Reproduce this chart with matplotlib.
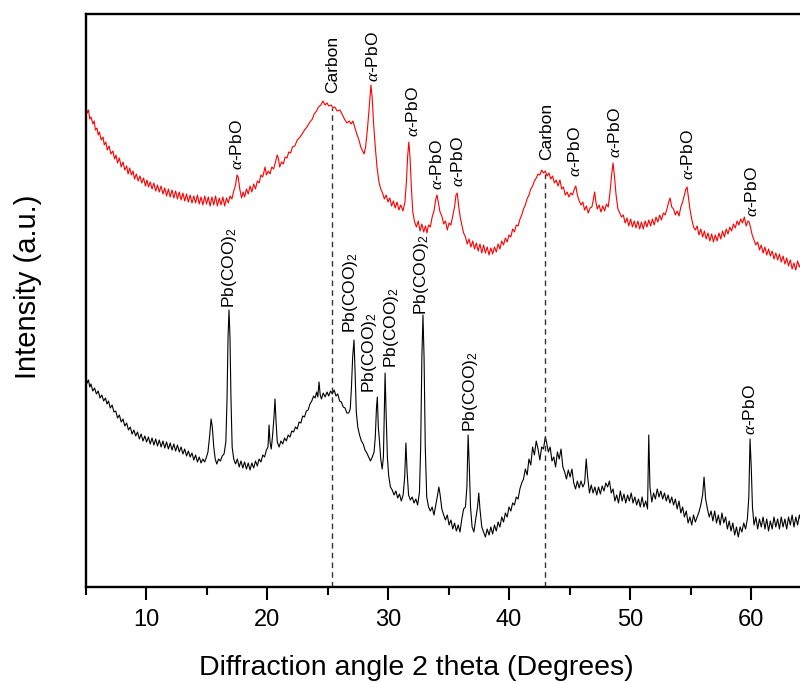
import matplotlib
matplotlib.use("Agg")
import matplotlib.pyplot as plt
from matplotlib.ticker import MultipleLocator

plt.rcParams['font.family'] = ['Liberation Sans', 'DejaVu Sans']
plt.rcParams['mathtext.fontset'] = 'custom'
plt.rcParams['mathtext.rm'] = 'Liberation Sans'
plt.rcParams['mathtext.it'] = 'Liberation Serif:italic'

# ---------------- data (2 theta in degrees, intensity in arbitrary units) ----
# upper (red) pattern: (2theta, intensity)
red_points = [
    (5.04, 480), (5.15, 474), (5.25, 477), (5.35, 468), (5.45, 470), (5.62, 463), (5.72, 466),
    (5.82, 457), (5.95, 459), (6.05, 452), (6.15, 455), (6.3, 447), (6.45, 450), (6.55, 442),
    (6.68, 445), (6.8, 437), (6.95, 441), (7.1, 433), (7.27, 436), (7.4, 428), (7.52, 432),
    (7.65, 424), (7.8, 429), (7.95, 420), (8.1, 425), (8.25, 417), (8.4, 421), (8.52, 413),
    (8.65, 419), (8.8, 412), (8.93, 416), (9.05, 408), (9.2, 413), (9.35, 406), (9.5, 411),
    (9.65, 404), (9.8, 409), (9.95, 401), (10.08, 407), (10.2, 400), (10.35, 405), (10.5, 398),
    (10.65, 404), (10.8, 396), (10.95, 402), (11.1, 395), (11.25, 401), (11.4, 393), (11.55, 399),
    (11.7, 391), (11.85, 398), (12.0, 390), (12.15, 397), (12.3, 389), (12.45, 396), (12.6, 388),
    (12.75, 395), (12.9, 387), (13.05, 394), (13.2, 386), (13.35, 393), (13.5, 385), (13.65, 392),
    (13.8, 384), (13.95, 391), (14.1, 384), (14.25, 392), (14.4, 383), (14.55, 390), (14.7, 382),
    (14.85, 391), (15.0, 383), (15.15, 390), (15.3, 381), (15.45, 390), (15.6, 382), (15.75, 391),
    (15.9, 381), (16.05, 389), (16.2, 382), (16.35, 390), (16.5, 381), (16.65, 389), (16.8, 384),
    (16.95, 391), (17.1, 388), (17.25, 396), (17.4, 402), (17.52, 412), (17.62, 410), (17.75, 398),
    (17.9, 389), (18.02, 395), (18.15, 390), (18.3, 398), (18.45, 393), (18.6, 401), (18.75, 395),
    (18.9, 403), (19.05, 398), (19.2, 406), (19.35, 404), (19.5, 412), (19.65, 410), (19.84, 420),
    (19.95, 412), (20.1, 416), (20.25, 413), (20.4, 420), (20.55, 418), (20.7, 425), (20.85, 432),
    (20.95, 428), (21.05, 420), (21.2, 425), (21.35, 423), (21.5, 430), (21.65, 429), (21.8, 435),
    (21.95, 434), (22.1, 440), (22.3, 441), (22.5, 447), (22.73, 450), (22.9, 453), (23.1, 457),
    (23.3, 460), (23.55, 465), (23.75, 468), (23.9, 473), (24.1, 476), (24.25, 480), (24.45, 482),
    (24.63, 486), (24.8, 482), (24.96, 484), (25.1, 481), (25.3, 482), (25.45, 479), (25.6, 480),
    (25.8, 476), (26.03, 477), (26.2, 473), (26.4, 468), (26.61, 464), (26.8, 466), (26.95, 463),
    (27.1, 466), (27.27, 459), (27.45, 452), (27.6, 447), (27.75, 440), (27.9, 436), (28.02, 433),
    (28.15, 440), (28.3, 458), (28.45, 480), (28.59, 502), (28.7, 488), (28.8, 465), (28.95, 440),
    (29.09, 420), (29.25, 405), (29.4, 398), (29.55, 394), (29.7, 388), (29.85, 392), (30.0, 385),
    (30.15, 389), (30.3, 381), (30.45, 386), (30.6, 379), (30.75, 385), (30.9, 377), (31.05, 382),
    (31.24, 376), (31.4, 385), (31.52, 405), (31.62, 430), (31.72, 445), (31.82, 430), (31.93, 400),
    (32.05, 375), (32.2, 365), (32.35, 360), (32.5, 366), (32.65, 356), (32.8, 363), (32.95, 355),
    (33.1, 361), (33.22, 354), (33.35, 362), (33.5, 360), (33.65, 370), (33.8, 376), (33.95, 388),
    (34.05, 392), (34.15, 385), (34.3, 375), (34.45, 371), (34.6, 363), (34.75, 366), (34.9, 357),
    (35.05, 364), (35.2, 362), (35.35, 371), (35.5, 380), (35.62, 392), (35.72, 394), (35.85, 380),
    (35.97, 370), (36.1, 362), (36.25, 354), (36.4, 350), (36.55, 343), (36.7, 348), (36.85, 340),
    (37.0, 346), (37.15, 338), (37.3, 344), (37.45, 336), (37.6, 343), (37.75, 334), (37.9, 342),
    (38.05, 334), (38.2, 340), (38.35, 332), (38.5, 339), (38.65, 333), (38.8, 340), (38.95, 335),
    (39.1, 343), (39.25, 338), (39.4, 346), (39.55, 342), (39.7, 349), (39.85, 345), (40.0, 352),
    (40.15, 350), (40.3, 358), (40.45, 355), (40.6, 362), (40.75, 361), (40.91, 368), (41.05, 372),
    (41.2, 378), (41.35, 382), (41.49, 388), (41.65, 392), (41.8, 398), (41.95, 401), (42.1, 406),
    (42.25, 409), (42.4, 413), (42.55, 412), (42.7, 417), (42.85, 414), (43.0, 416), (43.15, 411),
    (43.3, 414), (43.45, 408), (43.6, 411), (43.75, 404), (43.9, 407), (44.05, 401), (44.21, 407),
    (44.35, 398), (44.5, 400), (44.65, 392), (44.8, 395), (44.95, 390), (45.1, 394), (45.25, 392),
    (45.4, 398), (45.52, 401), (45.65, 392), (45.8, 386), (45.95, 382), (46.1, 385), (46.25, 377),
    (46.4, 381), (46.55, 374), (46.7, 379), (46.85, 380), (46.98, 388), (47.08, 395), (47.18, 385),
    (47.3, 378), (47.45, 382), (47.6, 375), (47.75, 381), (47.9, 376), (48.05, 383), (48.2, 380),
    (48.35, 395), (48.48, 412), (48.6, 424), (48.72, 410), (48.85, 392), (49.0, 378), (49.15, 374),
    (49.3, 370), (49.45, 372), (49.6, 364), (49.75, 369), (49.9, 361), (50.05, 368), (50.2, 360),
    (50.35, 366), (50.5, 359), (50.65, 366), (50.8, 358), (50.95, 365), (51.1, 358), (51.25, 366),
    (51.4, 360), (51.55, 367), (51.7, 361), (51.85, 368), (52.0, 362), (52.15, 370), (52.3, 365),
    (52.45, 372), (52.6, 367), (52.75, 374), (52.9, 372), (53.05, 378), (53.2, 385), (53.31, 389),
    (53.45, 380), (53.6, 378), (53.75, 372), (53.9, 376), (54.05, 371), (54.2, 380), (54.35, 385),
    (54.5, 392), (54.62, 398), (54.72, 400), (54.85, 388), (54.95, 378), (55.1, 368), (55.25, 360),
    (55.4, 357), (55.55, 361), (55.7, 352), (55.85, 358), (56.0, 350), (56.15, 356), (56.3, 348),
    (56.45, 354), (56.6, 346), (56.75, 353), (56.9, 345), (57.05, 352), (57.2, 346), (57.35, 354),
    (57.5, 348), (57.65, 356), (57.8, 350), (57.95, 358), (58.1, 353), (58.25, 360), (58.4, 356),
    (58.55, 363), (58.7, 359), (58.85, 366), (59.0, 362), (59.15, 368), (59.3, 364), (59.45, 370),
    (59.6, 361), (59.75, 366), (59.85, 365), (59.95, 360), (60.1, 352), (60.25, 347), (60.4, 342),
    (60.55, 345), (60.7, 337), (60.85, 342), (61.0, 334), (61.15, 340), (61.3, 332), (61.45, 338),
    (61.6, 331), (61.75, 336), (61.9, 328), (62.05, 334), (62.2, 327), (62.35, 333), (62.5, 325),
    (62.65, 331), (62.8, 323), (62.95, 329), (63.1, 321), (63.25, 327), (63.4, 318), (63.55, 324),
    (63.7, 317), (63.85, 326), (64.0, 320), (64.15, 324), (64.3, 319), (64.5, 322),
]

# lower (black) pattern: (2theta, intensity)
black_points = [
    (5.04, 210), (5.15, 204), (5.25, 207), (5.35, 200), (5.45, 203), (5.6, 196), (5.75, 199),
    (5.9, 193), (6.05, 196), (6.2, 189), (6.35, 192), (6.5, 186), (6.65, 189), (6.78, 183),
    (6.9, 186), (7.05, 179), (7.2, 182), (7.35, 175), (7.5, 176), (7.65, 169), (7.8, 172),
    (7.95, 165), (8.1, 168), (8.25, 161), (8.4, 164), (8.55, 157), (8.7, 160), (8.85, 153),
    (9.0, 157), (9.15, 151), (9.3, 155), (9.45, 148), (9.6, 153), (9.75, 146), (9.9, 151),
    (10.05, 145), (10.2, 150), (10.35, 143), (10.5, 149), (10.65, 142), (10.8, 148), (10.95, 141),
    (11.1, 147), (11.25, 140), (11.4, 146), (11.55, 139), (11.7, 145), (11.85, 138), (12.0, 144),
    (12.15, 137), (12.3, 143), (12.45, 136), (12.6, 142), (12.75, 135), (12.9, 140), (13.05, 133),
    (13.2, 138), (13.35, 131), (13.5, 136), (13.65, 130), (13.8, 134), (13.95, 127), (14.1, 132),
    (14.25, 125), (14.4, 130), (14.55, 124), (14.7, 128), (14.85, 125), (15.0, 130), (15.12, 135),
    (15.25, 150), (15.38, 168), (15.48, 160), (15.6, 140), (15.72, 128), (15.85, 123), (16.0, 128),
    (16.15, 126), (16.3, 131), (16.45, 133), (16.6, 145), (16.7, 190), (16.78, 250), (16.86, 277),
    (16.94, 250), (17.02, 190), (17.12, 140), (17.25, 128), (17.4, 123), (17.55, 128), (17.7, 120),
    (17.85, 126), (18.0, 119), (18.15, 125), (18.3, 118), (18.45, 124), (18.6, 117), (18.75, 124),
    (18.9, 119), (19.05, 126), (19.2, 121), (19.35, 128), (19.5, 125), (19.65, 132), (19.8, 130),
    (19.95, 137), (20.08, 140), (20.17, 162), (20.25, 145), (20.35, 138), (20.45, 150), (20.58, 170),
    (20.66, 188), (20.75, 165), (20.85, 145), (21.0, 140), (21.15, 146), (21.3, 143), (21.45, 149),
    (21.6, 146), (21.75, 152), (21.9, 150), (22.05, 156), (22.2, 155), (22.35, 160), (22.5, 158),
    (22.65, 165), (22.8, 164), (22.95, 171), (23.1, 170), (23.25, 176), (23.4, 177), (23.55, 183),
    (23.7, 186), (23.85, 191), (23.98, 189), (24.1, 195), (24.2, 190), (24.3, 205), (24.4, 192),
    (24.5, 188), (24.65, 194), (24.8, 190), (24.96, 195), (25.1, 191), (25.25, 196), (25.4, 193),
    (25.55, 197), (25.7, 191), (25.85, 193), (26.0, 186), (26.15, 185), (26.3, 180), (26.45, 179),
    (26.6, 174), (26.75, 174), (26.88, 178), (26.98, 200), (27.08, 230), (27.19, 247), (27.28, 215),
    (27.38, 175), (27.5, 160), (27.65, 152), (27.8, 146), (27.95, 143), (28.1, 137), (28.25, 134),
    (28.4, 130), (28.55, 126), (28.7, 130), (28.85, 135), (28.95, 150), (29.05, 180), (29.12, 190),
    (29.2, 160), (29.3, 145), (29.4, 128), (29.52, 118), (29.62, 130), (29.7, 180), (29.76, 214),
    (29.84, 175), (29.95, 130), (30.05, 112), (30.2, 100), (30.35, 97), (30.5, 92), (30.65, 96),
    (30.8, 89), (30.95, 93), (31.1, 86), (31.25, 92), (31.38, 110), (31.48, 144), (31.58, 115),
    (31.7, 92), (31.85, 87), (32.0, 90), (32.15, 84), (32.3, 88), (32.45, 82), (32.6, 95),
    (32.7, 140), (32.8, 230), (32.89, 272), (32.98, 230), (33.08, 140), (33.2, 90), (33.35, 80),
    (33.5, 76), (33.65, 80), (33.8, 72), (33.95, 82), (34.1, 92), (34.2, 100), (34.3, 93),
    (34.45, 78), (34.6, 72), (34.75, 67), (34.9, 72), (35.05, 62), (35.2, 67), (35.35, 58),
    (35.5, 64), (35.65, 56), (35.8, 62), (35.95, 55), (36.1, 68), (36.25, 78), (36.4, 80),
    (36.52, 100), (36.62, 152), (36.72, 120), (36.82, 80), (36.95, 60), (37.1, 55), (37.25, 68),
    (37.4, 80), (37.5, 94), (37.6, 78), (37.75, 60), (37.9, 55), (38.05, 50), (38.2, 58),
    (38.35, 52), (38.5, 60), (38.65, 53), (38.8, 62), (38.95, 56), (39.1, 65), (39.25, 60),
    (39.4, 70), (39.55, 65), (39.7, 74), (39.85, 70), (40.0, 80), (40.15, 76), (40.3, 84),
    (40.45, 82), (40.6, 90), (40.75, 88), (40.9, 98), (41.05, 104), (41.2, 108), (41.35, 118),
    (41.5, 112), (41.65, 128), (41.8, 122), (41.95, 140), (42.1, 132), (42.25, 146), (42.4, 138),
    (42.55, 127), (42.7, 140), (42.85, 138), (43.0, 150), (43.1, 145), (43.25, 135), (43.4, 140),
    (43.55, 126), (43.7, 130), (43.85, 120), (44.0, 135), (44.15, 128), (44.3, 138), (44.45, 120),
    (44.6, 115), (44.75, 108), (44.9, 117), (45.05, 110), (45.2, 118), (45.35, 104), (45.5, 98),
    (45.65, 106), (45.8, 99), (45.95, 106), (46.1, 100), (46.25, 104), (46.38, 128), (46.5, 110),
    (46.65, 94), (46.8, 102), (46.95, 94), (47.1, 100), (47.25, 92), (47.4, 100), (47.55, 93),
    (47.7, 101), (47.85, 96), (48.0, 104), (48.15, 100), (48.3, 106), (48.45, 94), (48.6, 98),
    (48.75, 86), (48.9, 92), (49.05, 84), (49.2, 96), (49.35, 86), (49.5, 93), (49.65, 84),
    (49.8, 92), (49.95, 86), (50.1, 94), (50.25, 84), (50.4, 90), (50.55, 82), (50.7, 88),
    (50.85, 80), (51.0, 90), (51.15, 80), (51.3, 86), (51.45, 78), (51.55, 152), (51.65, 100),
    (51.8, 85), (51.95, 94), (52.1, 88), (52.25, 98), (52.4, 90), (52.55, 96), (52.7, 88),
    (52.85, 94), (53.0, 86), (53.15, 92), (53.3, 84), (53.45, 90), (53.6, 82), (53.75, 88),
    (53.9, 78), (54.05, 86), (54.2, 74), (54.35, 80), (54.5, 70), (54.65, 76), (54.8, 64),
    (54.95, 70), (55.1, 62), (55.25, 72), (55.4, 65), (55.55, 70), (55.7, 75), (55.85, 82),
    (56.0, 92), (56.12, 110), (56.25, 88), (56.4, 78), (56.55, 70), (56.7, 76), (56.85, 66),
    (57.0, 76), (57.15, 64), (57.3, 72), (57.45, 62), (57.6, 74), (57.75, 64), (57.9, 70),
    (58.05, 58), (58.2, 66), (58.35, 56), (58.5, 64), (58.65, 52), (58.8, 60), (58.95, 50),
    (59.1, 60), (59.25, 55), (59.4, 64), (59.55, 58), (59.7, 68), (59.82, 90), (59.92, 148),
    (60.02, 120), (60.12, 80), (60.25, 62), (60.4, 70), (60.55, 58), (60.7, 68), (60.85, 60),
    (61.0, 70), (61.15, 58), (61.3, 68), (61.45, 56), (61.6, 66), (61.75, 58), (61.9, 70),
    (62.05, 60), (62.2, 68), (62.35, 58), (62.5, 70), (62.65, 60), (62.8, 68), (62.95, 58),
    (63.1, 70), (63.25, 62), (63.4, 72), (63.55, 60), (63.7, 70), (63.85, 62), (64.0, 72),
    (64.2, 62), (64.5, 66),
]

red_x = [p[0] for p in red_points]
red_y = [p[1] for p in red_points]
black_x = [p[0] for p in black_points]
black_y = [p[1] for p in black_points]

carbon_pos = [25.4, 43.0]
carbon_top = [479, 413]

red_labels = ["Carbon", "Carbon"] + ["$\\alpha$-PbO"] * 9
red_label_x = [25.45, 43.14, 17.5, 28.76, 32.07, 34.05, 35.78, 45.45, 48.76, 54.79, 60.08]
red_label_y = [494, 427, 417, 505, 450, 397, 400, 410, 429, 407, 370]

black_labels = ["Pb(COO)$_2$"] * 6 + ["$\\alpha$-PbO"]
black_label_x = [16.86, 26.9, 28.43, 30.25, 32.8, 36.78, 59.92]
black_label_y = [279, 254, 194, 219, 272, 155, 152]

xticks_major = [10, 20, 30, 40, 50, 60]

# ---------------- figure ----------------
fig = plt.figure(figsize=(8.0, 6.83), dpi=100)
ax = fig.add_axes([85.5 / 800, 96 / 683, 726 / 800, 573 / 683])

ax.plot(red_x, red_y, color='#ff0000', lw=0.8)
ax.plot(black_x, black_y, color='black', lw=0.8)
ax.vlines(carbon_pos, 0, carbon_top, colors='#333333', linestyles=(0, (4, 3)), lw=1.0)

for t, x, y in zip(red_labels, red_label_x, red_label_y):
    ax.text(x, y, t, rotation=90, ha='center', va='bottom', fontsize=12.5, color='black')
for t, x, y in zip(black_labels, black_label_x, black_label_y):
    ax.text(x, y, t, rotation=90, ha='center', va='bottom', fontsize=12.5, color='black')

ax.set_xlim(5, 65)
ax.set_ylim(0, 573)
ax.set_xticks(xticks_major)
ax.xaxis.set_minor_locator(MultipleLocator(5))
ax.set_yticks([])
ax.tick_params(axis='x', which='major', length=9.5, width=1.5, labelsize=17, pad=6, direction='out')
ax.tick_params(axis='x', which='minor', length=6, width=1.5, direction='out')
for s in ax.spines.values():
    s.set_linewidth(1.7)

ax.set_xlabel("Diffraction angle 2 theta (Degrees)", fontsize=20.5)
ax.set_ylabel("Intensity (a.u.)", fontsize=21)
ax.xaxis.set_label_coords(0.455, -0.118)
ax.yaxis.set_label_coords(-0.06, 0.524)

fig.savefig("out.png", dpi=100)
